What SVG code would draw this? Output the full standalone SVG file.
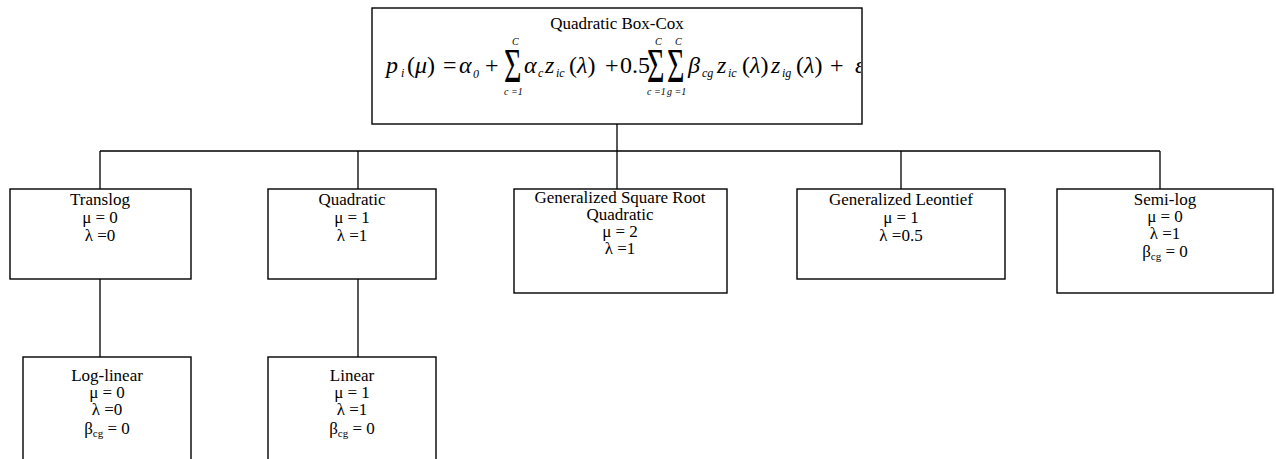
<svg xmlns="http://www.w3.org/2000/svg" width="1276" height="459" viewBox="0 0 1276 459">
  <style>
    .box { fill: #fff; stroke: #000; stroke-width: 1.4; }
    .wire { fill: none; stroke: #000; stroke-width: 1.3; }
    .lbl { font-family: "Liberation Serif", "Times New Roman", serif; font-size: 17px; fill: #000; text-anchor: middle; }
    .sub { font-size: 11px; }
    .m { font-family: "Liberation Serif", "Times New Roman", serif; font-size: 24px; fill: #000; }
    .it { font-style: italic; }
    .ms { font-family: "Liberation Serif", "Times New Roman", serif; font-size: 12px; font-style: italic; fill: #000; }
    .lim { font-family: "Liberation Serif", "Times New Roman", serif; font-size: 10px; font-style: italic; fill: #000; }
    .sig { font-family: "Liberation Serif", "Times New Roman", serif; font-size: 30px; fill: #000; }
  </style>
  <defs>
    <clipPath id="topClip">
      <rect x="372" y="8" width="489" height="116"/>
    </clipPath>
  </defs>
  <rect width="1276" height="459" fill="#fff"/>

  <!-- connectors -->
  <g id="connectors">
    <path class="wire" d="M617 124 V151 M100 151 H1160 M100 151 V189 M358 151 V189 M617 151 V189 M901 151 V189 M1160 151 V189"/>
    <path class="wire" d="M100 279 V357 M358 279 V357"/>
  </g>

  <!-- root: Quadratic Box-Cox -->
  <g id="node-box-cox">
    <rect class="box" x="372" y="8" width="490" height="116"/>
    <text class="lbl" x="617" y="29">Quadratic Box-Cox</text>
    <g clip-path="url(#topClip)">
      <text class="m it" x="386" y="73">p</text>
      <text class="ms" x="401" y="77">i</text>
      <text class="m" x="407" y="73">(<tspan class="it">μ</tspan>)</text>
      <text class="m" x="443" y="73">=</text>
      <text class="m it" x="459" y="73">α</text>
      <text class="ms" x="473" y="78" font-style="normal">0</text>
      <text class="m" x="485" y="73">+</text>
      <text class="sig" transform="translate(504 82) scale(1 1.6)">Σ</text>
      <text class="lim" x="512" y="45">C</text>
      <text class="lim" x="504" y="95">c =1</text>
      <text class="m it" x="524" y="73">α</text>
      <text class="ms" x="538" y="77">c</text>
      <text class="m it" x="545" y="73">z</text>
      <text class="ms" x="556" y="77">ic</text>
      <text class="m" x="569" y="73">(<tspan class="it">λ</tspan>)</text>
      <text class="m" x="605" y="73">+</text>
      <text class="m" x="620" y="73">0.5</text>
      <text class="sig" transform="translate(647 82) scale(1 1.6)">Σ</text>
      <text class="lim" x="655" y="45">C</text>
      <text class="lim" x="647" y="95">c =1</text>
      <text class="sig" transform="translate(667 82) scale(1 1.6)">Σ</text>
      <text class="lim" x="675" y="45">C</text>
      <text class="lim" x="667" y="95">g =1</text>
      <text class="m it" x="688" y="73">β</text>
      <text class="ms" x="702" y="77">cg</text>
      <text class="m it" x="717" y="73">z</text>
      <text class="ms" x="728" y="77">ic</text>
      <text class="m" x="742" y="73">(<tspan class="it">λ</tspan>)</text>
      <text class="m it" x="771" y="73">z</text>
      <text class="ms" x="782" y="77">ig</text>
      <text class="m" x="796" y="73">(<tspan class="it">λ</tspan>)</text>
      <text class="m" x="830" y="73">+</text>
      <text class="m it" x="855" y="73">ε</text>
    </g>
  </g>

  <!-- second level -->
  <g id="node-translog">
    <rect class="box" x="10" y="189" width="181" height="90"/>
    <text class="lbl" x="100" y="205">Translog</text>
    <text class="lbl" x="100" y="223">μ = 0</text>
    <text class="lbl" x="100" y="241">λ =0</text>
  </g>
  <g id="node-quadratic">
    <rect class="box" x="268" y="189" width="168" height="90"/>
    <text class="lbl" x="352" y="205">Quadratic</text>
    <text class="lbl" x="352" y="223">μ = 1</text>
    <text class="lbl" x="352" y="241">λ =1</text>
  </g>
  <g id="node-gsrq">
    <rect class="box" x="514" y="189" width="213" height="104"/>
    <text class="lbl" x="620" y="203">Generalized Square Root</text>
    <text class="lbl" x="620" y="220">Quadratic</text>
    <text class="lbl" x="620" y="237">μ = 2</text>
    <text class="lbl" x="620" y="254">λ =1</text>
  </g>
  <g id="node-leontief">
    <rect class="box" x="797" y="189" width="208" height="90"/>
    <text class="lbl" x="901" y="205">Generalized Leontief</text>
    <text class="lbl" x="901" y="223">μ = 1</text>
    <text class="lbl" x="901" y="241">λ =0.5</text>
  </g>
  <g id="node-semilog">
    <rect class="box" x="1057" y="189" width="216" height="104"/>
    <text class="lbl" x="1165" y="205">Semi-log</text>
    <text class="lbl" x="1165" y="222">μ = 0</text>
    <text class="lbl" x="1165" y="239">λ =1</text>
    <text class="lbl" x="1165" y="257">β<tspan class="sub" dy="3">cg</tspan><tspan dy="-3"> = 0</tspan></text>
  </g>

  <!-- third level -->
  <g id="node-log-linear">
    <rect class="box" x="23" y="357" width="168" height="120"/>
    <text class="lbl" x="107" y="381">Log-linear</text>
    <text class="lbl" x="107" y="398">μ = 0</text>
    <text class="lbl" x="107" y="415">λ =0</text>
    <text class="lbl" x="107" y="434">β<tspan class="sub" dy="3">cg</tspan><tspan dy="-3"> = 0</tspan></text>
  </g>
  <g id="node-linear">
    <rect class="box" x="268" y="357" width="168" height="120"/>
    <text class="lbl" x="352" y="381">Linear</text>
    <text class="lbl" x="352" y="398">μ = 1</text>
    <text class="lbl" x="352" y="415">λ =1</text>
    <text class="lbl" x="352" y="434">β<tspan class="sub" dy="3">cg</tspan><tspan dy="-3"> = 0</tspan></text>
  </g>
</svg>
